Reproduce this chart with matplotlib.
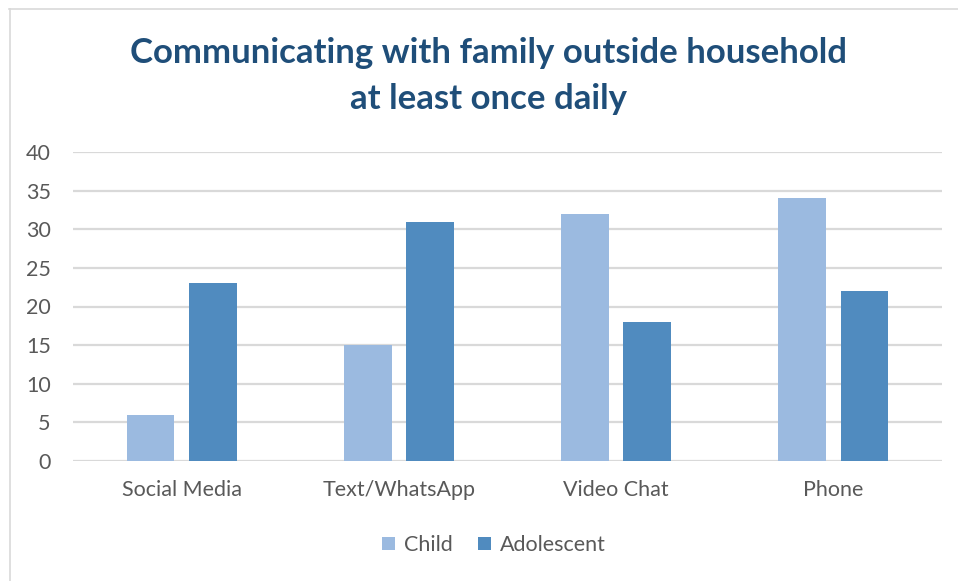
import matplotlib.pyplot as plt
import numpy as np

categories = ['Social Media', 'Text/WhatsApp', 'Video Chat', 'Phone']
child = [6, 15, 32, 34]
adolescent = [23, 31, 18, 22]
series_names = ['Child', 'Adolescent']
yticks = [0, 5, 10, 15, 20, 25, 30, 35, 40]

c_child = '#9BBAE0'
c_adol = '#508BBF'
c_text = '#595959'
c_title = '#1F4E79'
c_grid = '#D9D9D9'

plt.rcParams['font.family'] = ['Lato', 'DejaVu Sans']

fig = plt.figure(figsize=(9.58, 5.81), dpi=100)
ax = fig.add_axes([73/958, 120/581, 869/958, 309/581])

x = np.arange(len(categories))
w = 0.22
off = 0.143
ax.bar(x - off, child, w, color=c_child, label=series_names[0], zorder=3)
ax.bar(x + off, adolescent, w, color=c_adol, label=series_names[1], zorder=3)

ax.set_xlim(-0.5, len(categories) - 0.5)
ax.set_ylim(0, 40)
ax.set_yticks(yticks)
ax.set_xticks(x)
ax.set_xticklabels(categories)
ax.tick_params(axis='both', length=0, colors=c_text, labelsize=15.5)
ax.tick_params(axis='y', pad=16)
ax.tick_params(axis='x', pad=14)
ax.grid(axis='y', color=c_grid, linewidth=1.6, zorder=0)
for s in ax.spines.values():
    s.set_visible(False)

fig.text(489/958, 1 - 53/581, 'Communicating with family outside household',
         ha='center', va='center', fontsize=25, fontweight='bold', color=c_title)
fig.text(489/958, 1 - 99/581, 'at least once daily',
         ha='center', va='center', fontsize=25, fontweight='bold', color=c_title)

leg = fig.legend(loc='center', bbox_to_anchor=(494/958, 1 - 545/581), ncol=2,
                 frameon=False, fontsize=15.5, handlelength=0.6, handleheight=0.6,
                 handletextpad=0.4, columnspacing=1.2, labelcolor=c_text)

# chart border (top and left visible)
fig.add_artist(plt.Line2D([9/958, 1], [1 - 8.5/581, 1 - 8.5/581], transform=fig.transFigure,
                          color='#D9D9D9', linewidth=1.2))
fig.add_artist(plt.Line2D([9.5/958, 9.5/958], [0, 1 - 8.5/581], transform=fig.transFigure,
                          color='#D9D9D9', linewidth=1.2))

fig.savefig('out.png', dpi=100)
